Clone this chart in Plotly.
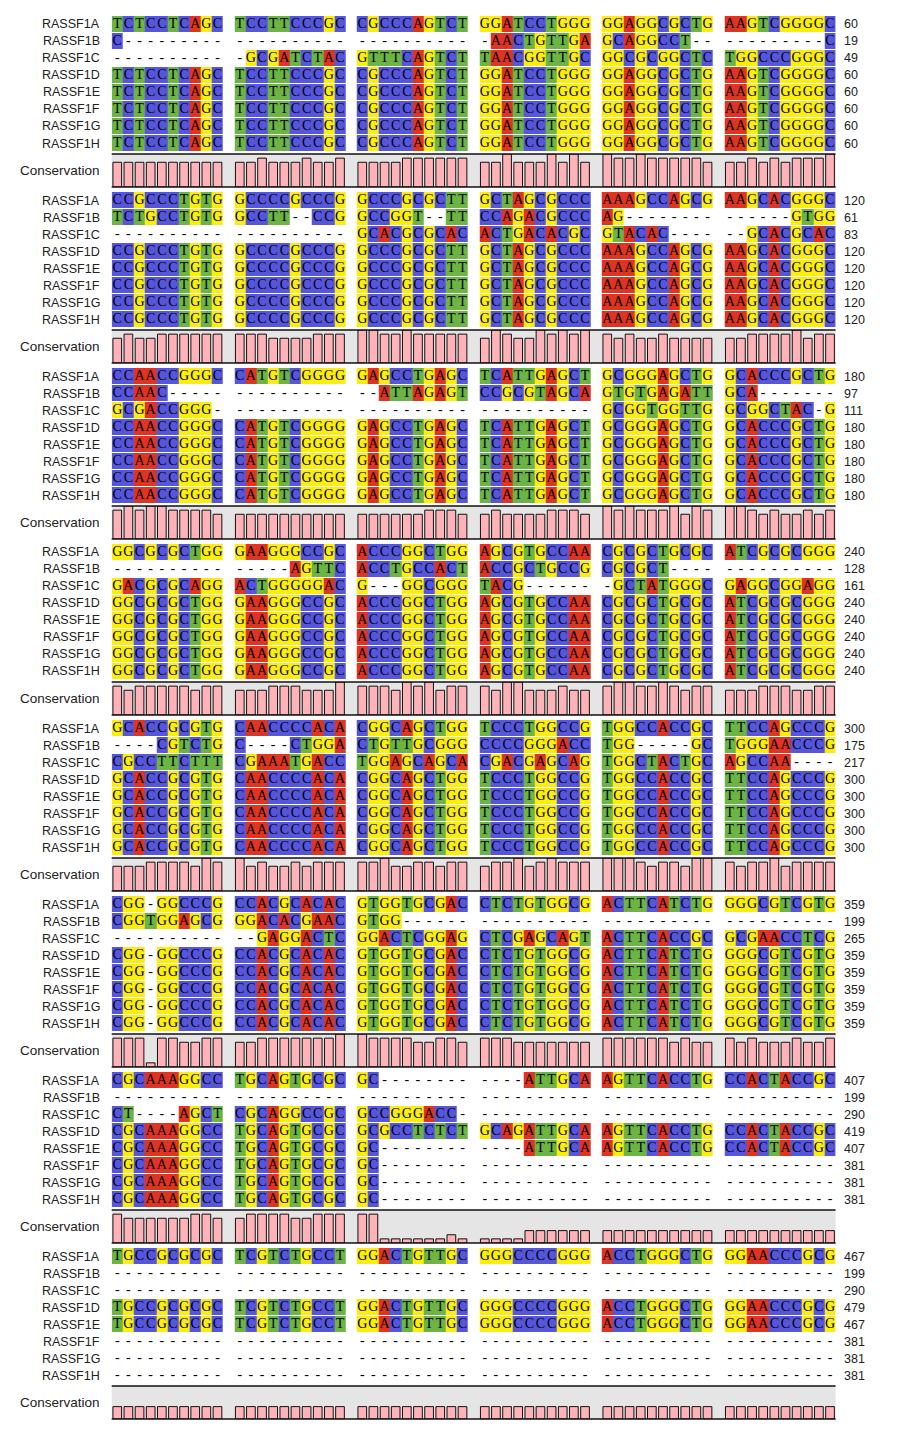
import plotly.graph_objects as go

# ---------------- data ----------------
names = ["RASSF1A", "RASSF1B", "RASSF1C", "RASSF1D",
         "RASSF1E", "RASSF1F", "RASSF1G", "RASSF1H"]

GAPS = "---------- ---------- ---------- ---------- ---------- ----------"

rassf1a = [
    "TCTCCTCAGC TCCTTCCCGC CGCCCAGTCT GGATCCTGGG GGAGGCGCTG AAGTCGGGGC",
    "CCGCCCTGTG GCCCCGCCCG GCCCGCGCTT GCTAGCGCCC AAAGCCAGCG AAGCACGGGC",
    "CCAACCGGGC CATGTCGGGG GAGCCTGAGC TCATTGAGCT GCGGGAGCTG GCACCCGCTG",
    "GGCGCGCTGG GAAGGGCCGC ACCCGGCTGG AGCGTGCCAA CGCGCTGCGC ATCGCGCGGG",
    "GCACCGCGTG CAACCCCACA CGGCAGCTGG TCCCTGGCCG TGGCCACCGC TTCCAGCCCG",
    "CGG-GGCCCG CCACGCACAC GTGGTGCGAC CTCTGTGGCG ACTTCATCTG GGGCGTCGTG",
    "CGCAAAGGCC TGCAGTGCGC GC-------- ----ATTGCA AGTTCACCTG CCACTACCGC",
    "TGCCGCGCGC TCGTCTGCCT GGACTGTTGC GGGCCCCGGG ACCTGGGCTG GGAACCCGCG",
]
rassf1b = [
    "C--------- ---------- ---------- -AACTGTTGA GCAGGCCT-- ---------C",
    "TCTGCCTGTG GCCTT--CCG GCCGGT--TT CCAGACGCCC AG-------- ------GTGG",
    "CCAAC----- ---------- --ATTAGAGT CCGCGTAGCA GTGTGAGATT GCA-------",
    "---------- -----AGTTC ACCTGCCACT ACCGCTGCCG CGCGCT---- ----------",
    "----CGTCTG C----CTGGA CTGTTGCGGG CCCCGGGACC TGG-----GC TGGGAACCCG",
    "CGGTGGAGCG GGACACGAAC GTGG------ ---------- ---------- ----------",
    GAPS,
    GAPS,
]
rassf1c = [
    "---------- -GCGATCTAC GTTTCAGTCT TAACGGTTGC GGCGCGGCTC TGGCCCGGGC",
    "---------- ---------- GCACGCGCAC ACTGACACGC GTACAC---- --GCACGCAC",
    "GCGACCGGG- ---------- ---------- ---------- GCGGTGGTTG GCGGCTAC-G",
    "GACGCGCAGG ACTGGGGGAC G---GGCGGG TACG------ -GCTATGGGC GAGGCGGAGG",
    "CGCCTTCTTT CGAAATGACC TGGAGCAGCA CGACGAGCAG TGGCTACTGC AGCCAA----",
    "---------- --GAGGACTC GGACTCGGAG CTCGAGCAGT ACTTCACCGC GCGAACCTCG",
    "CT----AGCT CGCAGGCCGC GCCGGGACC- ---------- ---------- ----------",
    GAPS,
]
rassf1d = rassf1a[:6] + [
    "CGCAAAGGCC TGCAGTGCGC GCGCCTCTCT GCAGATTGCA AGTTCACCTG CCACTACCGC",
] + rassf1a[7:]
rassf1e = list(rassf1a)
rassf1f = rassf1a[:6] + [
    "CGCAAAGGCC TGCAGTGCGC GC-------- ---------- ---------- ----------",
    GAPS,
]
rassf1g = list(rassf1f)
rassf1h = list(rassf1f)

sequences = [rassf1a, rassf1b, rassf1c, rassf1d, rassf1e, rassf1f, rassf1g, rassf1h]

# ---------------- style / layout constants ----------------
PAGE_OFF = 8                  # browser body margin
W, H = 907 - 2 * PAGE_OFF, 1436 - 2 * PAGE_OFF
X0_PX, X1_PX = 111.7 - PAGE_OFF, 835.6 - PAGE_OFF
NCOLS = 65                    # 60 residues + 5 spacer columns
ROW_H = 17
PERIOD = 176
SEQ_TOP0 = 16.0 - PAGE_OFF
CONS_TOP0 = 154 - PAGE_OFF
CONS_BOT0 = 187 - PAGE_OFF

NUC_CODE = {"A": 0, "C": 1, "G": 2, "T": 3}
colors = {"A": "#df3421", "C": "#5656dc", "G": "#fbec12", "T": "#6cb443"}
colorscale = [
    [0.0, colors["A"]], [1 / 6, colors["A"]],
    [1 / 6, colors["C"]], [0.5, colors["C"]],
    [0.5, colors["G"]], [5 / 6, colors["G"]],
    [5 / 6, colors["T"]], [1.0, colors["T"]],
]


def py(px):
    return 1 - px / H


fig = go.Figure()
layout = dict(
    width=W, height=H,
    margin=dict(l=0, r=0, t=0, b=0),
    paper_bgcolor="white", plot_bgcolor="rgba(0,0,0,0)",
    showlegend=False,
    xaxis=dict(domain=[X0_PX / W, X1_PX / W], range=[-0.5, NCOLS - 0.5],
               visible=False, fixedrange=True),
)
shapes = []
annotations = []
running = [0] * len(names)

for b in range(8):
    seq_ax = 2 * b + 1
    cons_ax = 2 * b + 2
    ys = "y" if seq_ax == 1 else f"y{seq_ax}"
    yc = f"y{cons_ax}"
    top = SEQ_TOP0 + PERIOD * b
    ctop = CONS_TOP0 + PERIOD * b
    cbot = CONS_BOT0 + PERIOD * b
    layout["yaxis" if seq_ax == 1 else f"yaxis{seq_ax}"] = dict(
        domain=[py(top + ROW_H * 8), py(top)], range=[7.5, -0.5],
        visible=False, anchor="x", fixedrange=True)
    layout[f"yaxis{cons_ax}"] = dict(
        domain=[py(cbot), py(ctop)], range=[0, 1],
        visible=False, anchor="x", fixedrange=True)

    z = []
    tx, ty, tt = [], [], []
    cols_res = [[] for _ in range(60)]
    for r, seq in enumerate(sequences):
        s = seq[b].replace(" ", "")
        row = [None] * NCOLS
        for i, ch in enumerate(s):
            j = i + i // 10
            tx.append(j)
            ty.append(r)
            tt.append(ch)
            if ch != "-":
                row[j] = NUC_CODE[ch]
                running[r] += 1
            cols_res[i].append(ch)
        z.append(row)

    fig.add_trace(go.Heatmap(
        x=list(range(NCOLS)), y=list(range(8)), z=z,
        zmin=0, zmax=3, colorscale=colorscale, showscale=False,
        xgap=0, ygap=1, hoverinfo="skip", xaxis="x", yaxis=ys))
    fig.add_trace(go.Scatter(
        x=tx, y=ty, text=tt, mode="text", xaxis="x", yaxis=ys,
        textfont=dict(family="Liberation Serif", size=14, color="#000"),
        hoverinfo="skip"))

    # conservation (fraction of sequences sharing the most common residue)
    cx, cy = [], []
    for i in range(60):
        res = [c for c in cols_res[i] if c != "-"]
        best = max((res.count(n) for n in "ACGT"), default=0)
        cx.append(i + i // 10)
        cy.append(best / len(names))
    fig.add_trace(go.Bar(
        x=cx, y=cy, width=0.78, xaxis="x", yaxis=yc,
        marker=dict(color="#ffb3b8", line=dict(color="#111", width=1)),
        hoverinfo="skip"))

    shapes.append(dict(type="rect", xref="x", yref=f"{yc} domain",
                       x0=-0.7, x1=NCOLS - 0.3, y0=0, y1=1,
                       fillcolor="#e5e5e5", line=dict(width=0), layer="below"))
    for yy in (0, 1):
        shapes.append(dict(type="line", xref="x", yref=f"{yc} domain",
                           x0=-0.7, x1=NCOLS - 0.3, y0=yy, y1=yy,
                           line=dict(color="#111", width=1.5)))

    for r, nm in enumerate(names):
        annotations.append(dict(
            x=-0.5, y=r, xref="x", yref=ys, text=nm, showarrow=False,
            xanchor="right", xshift=-10, yanchor="middle",
            font=dict(family="Liberation Sans", size=12.5, color="#222")))
        annotations.append(dict(
            x=NCOLS - 0.5, y=r, xref="x", yref=ys, text=str(running[r]),
            showarrow=False, xanchor="left", xshift=6, yanchor="middle",
            font=dict(family="Liberation Sans", size=12.5, color="#222")))
    annotations.append(dict(
        x=-0.5, y=0.5, xref="x", yref=f"{yc} domain", text="Conservation",
        showarrow=False, xanchor="right", xshift=-10, yanchor="middle",
        font=dict(family="Liberation Sans", size=13.5, color="#222")))
    annotations.append(dict(
        x=-0.7, y=1, xref="x", yref=f"{yc} domain", text="100%",
        showarrow=False, xanchor="right", xshift=-1, yanchor="top",
        font=dict(family="Liberation Sans", size=6, color="#555")))
    annotations.append(dict(
        x=-0.7, y=0, xref="x", yref=f"{yc} domain", text="0%",
        showarrow=False, xanchor="right", xshift=-1, yanchor="bottom",
        font=dict(family="Liberation Sans", size=6, color="#555")))

layout["shapes"] = shapes
layout["annotations"] = annotations
fig.update_layout(**layout)

fig.write_html("out.html")
